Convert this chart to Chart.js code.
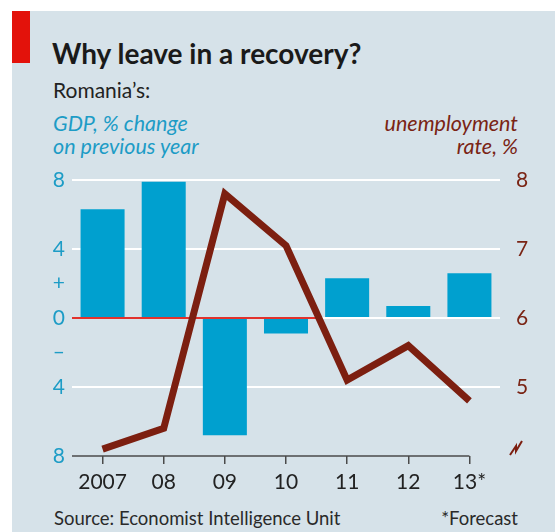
<!DOCTYPE html>
<html>
<head>
<meta charset="utf-8">
<script src="https://cdn.jsdelivr.net/npm/chart.js@4.4.1/dist/chart.umd.min.js"></script>
<style>
  html, body { margin: 0; padding: 0; background: #fff; }
  body { width: 555px; height: 532px; position: relative; overflow: hidden; }
  #panel { position: absolute; left: 12px; top: 11px; right: 0; bottom: 0; background: #d6e2e9; }
  #tag { position: absolute; left: 12px; top: 11px; width: 18px; height: 52px; background: #e3120b; }
  .t { position: absolute; white-space: nowrap; font-family: Lato, "Open Sans", sans-serif; line-height: 1; }
  #title { left: 52px; top: 39px; font-size: 28px; font-weight: 700; color: #1a1a1a; }
  #sub { left: 53px; top: 79px; font-size: 21px; color: #222; }
  .gdp { left: 53px; font-size: 21.5px; font-style: italic; color: #1d9cc6; }
  .rate { right: 37px; font-size: 21.5px; font-style: italic; color: #7a2414; }
  .l1 { top: 113px; }
  .l2 { top: 136px; }
  #source { left: 54px; top: 509px; font-size: 18.5px; color: #2a2a2a; }
  #note { right: 37px; top: 509px; font-size: 18.5px; color: #2a2a2a; }
  #chart { position: absolute; left: 0; top: 0; }
</style>
</head>
<body>
<div id="panel"></div>
<div id="tag"></div>
<div class="t" id="title">Why leave in a recovery?</div>
<div class="t" id="sub">Romania’s:</div>
<div class="t gdp l1">GDP, % change</div>
<div class="t gdp l2">on previous year</div>
<div class="t rate l1">unemployment</div>
<div class="t rate l2">rate, %</div>
<div class="t" id="source">Source: Economist Intelligence Unit</div>
<div class="t" id="note">*Forecast</div>
<canvas id="chart" width="555" height="532"></canvas>

<script>
const years = ['2007', '08', '09', '10', '11', '12', '13*'];
const gdpChange = [6.3, 7.9, -6.8, -0.9, 2.3, 0.7, 2.6];
const unemployment = [4.1, 4.4, 7.8, 7.05, 5.1, 5.6, 4.8];

// left axis: 8 .. -8 with +/- markers either side of zero
const gdpTickValues = [8, 4, 2, 0, -2, -4, -8];
const gdpTickLabels = ['8', '4', '+', '0', '–', '4', '8'];
const gdpGridValues = [8, 4, 0, -4];
// right axis, bottom is broken so 4 gets a zigzag instead of a label
const rateTickValues = [8, 7, 6, 5];

const BLUE = '#00a0cf';
const BROWN = '#7c1f10';
const FONT = 'Lato, "Open Sans", sans-serif';

const extras = {
  id: 'extras',
  beforeDatasetsDraw(chart) {
    const { ctx, chartArea, scales } = chart;
    const x = scales.x, y = scales.y;
    // red zero line, runs until the gap between 10 and 11
    const y0 = y.getPixelForValue(0);
    const xEnd = (x.getPixelForValue(3) + x.getPixelForValue(4)) / 2;
    ctx.save();
    ctx.strokeStyle = '#e2322c';
    ctx.lineWidth = 2;
    ctx.beginPath();
    ctx.moveTo(chartArea.left, y0);
    ctx.lineTo(xEnd, y0);
    ctx.stroke();
    // x axis line stops at the last year
    ctx.strokeStyle = '#4a4a4a';
    ctx.lineWidth = 1.5;
    ctx.beginPath();
    ctx.moveTo(chartArea.left, chartArea.bottom);
    ctx.lineTo(x.getPixelForValue(years.length - 1), chartArea.bottom);
    ctx.stroke();
    ctx.restore();
  },
  afterDraw(chart) {
    const { ctx, chartArea, scales } = chart;
    const yb = scales.y2.getPixelForValue(4.13);
    const xb = chartArea.right + 10;
    ctx.save();
    ctx.strokeStyle = BROWN;
    ctx.lineWidth = 2;
    ctx.lineJoin = 'miter';
    ctx.beginPath();
    ctx.moveTo(xb, yb + 8);
    ctx.lineTo(xb + 6, yb - 1);
    ctx.lineTo(xb + 6, yb + 4);
    ctx.lineTo(xb + 12, yb - 6);
    ctx.stroke();
    ctx.restore();
  }
};

new Chart(document.getElementById('chart'), {
  data: {
    labels: years,
    datasets: [
      {
        type: 'line',
        data: unemployment,
        yAxisID: 'y2',
        borderColor: BROWN,
        borderWidth: 7,
        borderJoinStyle: 'miter',
        pointRadius: 0,
        tension: 0,
        clip: false,
        order: 0
      },
      {
        type: 'bar',
        data: gdpChange,
        yAxisID: 'y',
        backgroundColor: BLUE,
        categoryPercentage: 1,
        barPercentage: 0.72,
        order: 1
      }
    ]
  },
  options: {
    responsive: false,
    animation: false,
    devicePixelRatio: 1,
    layout: { padding: { top: 180, left: 0, right: 0, bottom: 0 } },
    plugins: { legend: { display: false }, tooltip: { enabled: false } },
    scales: {
      x: {
        offset: true,
        afterFit: s => { s.height = 76; },
        grid: { offset: false, drawOnChartArea: false, drawTicks: true, tickLength: 8, color: '#4a4a4a', lineWidth: 1.5 },
        border: { display: false },
        ticks: { color: '#222', font: { family: FONT, size: 21 }, padding: 6 }
      },
      y: {
        position: 'left',
        min: -8,
        max: 8,
        afterFit: s => { s.width = 72; },
        afterBuildTicks: s => { s.ticks = gdpTickValues.map(v => ({ value: v })); },
        grid: {
          drawTicks: false,
          lineWidth: 2,
          color: c => gdpGridValues.includes(c.tick.value) ? '#ffffff' : 'rgba(0,0,0,0)'
        },
        border: { display: false },
        ticks: {
          color: '#1d9cc6',
          font: { family: FONT, size: 21 },
          padding: 7,
          callback: v => gdpTickLabels[gdpTickValues.indexOf(v)]
        }
      },
      y2: {
        position: 'right',
        min: 4,
        max: 8,
        afterFit: s => { s.width = 55; },
        afterBuildTicks: s => { s.ticks = rateTickValues.map(v => ({ value: v })); },
        grid: { display: false },
        border: { display: false },
        ticks: { color: '#7a2414', font: { family: FONT, size: 21 }, padding: 8 }
      }
    }
  },
  plugins: [extras]
});
</script>
</body>
</html>
